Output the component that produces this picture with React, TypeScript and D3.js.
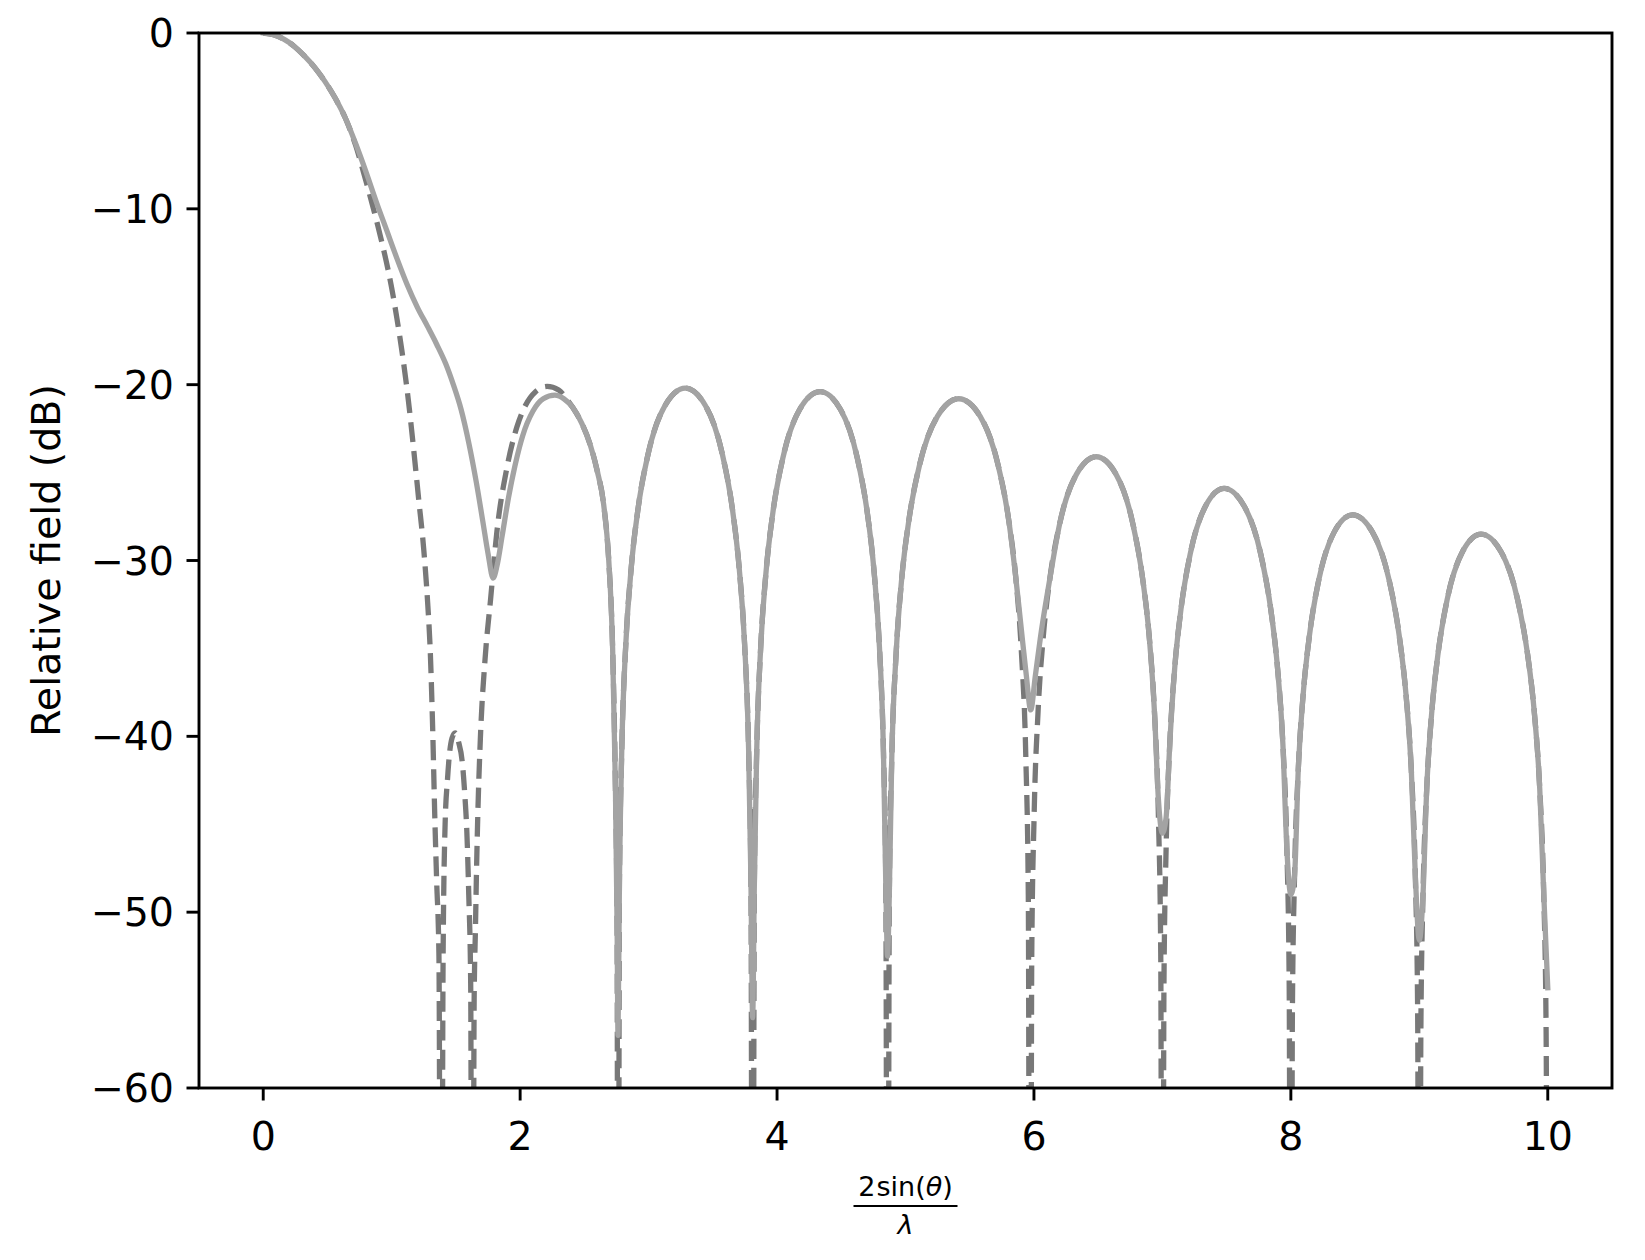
import React from 'react';
import * as d3 from 'd3';

type Pt = [number, number];

const xTicks = [0, 2, 4, 6, 8, 10];
const yTicks = [0, -10, -20, -30, -40, -50, -60];
const xDomain: Pt = [-0.5, 10.5];
const yDomain: Pt = [-60, 0];
const yLabel = 'Relative field (dB)';

// solid series: main lobe + first sidelobe
const solidMainLobe: Pt[] = [
  [0, 0], [0.08, -0.1], [0.16, -0.35], [0.24, -0.75], [0.32, -1.3], [0.40, -1.95],
  [0.48, -2.75], [0.56, -3.7], [0.64, -4.85], [0.72, -6.3], [0.80, -7.9], [0.88, -9.6],
  [0.96, -11.2], [1.04, -12.8], [1.12, -14.3], [1.20, -15.6], [1.28, -16.7], [1.35, -17.7],
  [1.42, -18.8], [1.48, -20.0], [1.54, -21.4], [1.60, -23.3], [1.66, -25.6], [1.71, -27.8],
  [1.75, -29.6], [1.79, -31.0], [1.82, -30.3], [1.86, -28.6], [1.91, -26.4], [1.96, -24.6],
  [2.02, -22.9], [2.10, -21.5], [2.18, -20.8], [2.27, -20.6], [2.34, -20.8], [2.41, -21.3],
  [2.48, -22.2], [2.545, -23.4], [2.60, -24.9], [2.65, -26.8], [2.69, -30.0], [2.72, -35.0],
  [2.742, -43.0], [2.755, -51.0],
];

// solid series: remaining sidelobes (shallow nulls)
const solidSidelobes: Pt[] = [
  [2.762, -57.0],
  [2.773, -48.3], [2.7915, -40.7], [2.823, -34.7], [2.865, -30.4], [2.917, -27.1], [2.996, -23.95],
  [3.127, -21.2], [3.285, -20.2], [3.443, -21.2], [3.574, -23.95], [3.653, -27.1], [3.705, -30.4],
  [3.747, -34.7], [3.7785, -40.7], [3.797, -48.4],
  [3.81, -56.0],
  [3.823, -48.6], [3.8415, -40.9], [3.873, -34.9], [3.915, -30.6], [3.967, -27.3], [4.046, -24.15],
  [4.177, -21.4], [4.335, -20.4], [4.493, -21.4], [4.624, -24.15], [4.703, -27.3], [4.755, -30.6],
  [4.797, -34.9], [4.8285, -40.9], [4.847, -48.6],
  [4.86, -52.5],
  [4.874, -49.0], [4.893, -41.3], [4.927, -35.3], [4.971, -31.0], [5.0265, -27.7], [5.11, -24.55],
  [5.2485, -21.8], [5.415, -20.8], [5.5815, -21.8], [5.72, -24.55], [5.8035, -27.7], [5.859, -31.0],
  [5.90, -33.8], [5.94, -36.5],
  [5.975, -38.5],
  [6.01, -36.6], [6.05, -34.4], [6.09, -32.5], [6.1245, -31.0], [6.202, -27.85], [6.3305, -25.1],
  [6.485, -24.1], [6.6395, -25.1], [6.768, -27.85], [6.8455, -31.0], [6.897, -34.3], [6.938, -38.6],
  [6.969, -43.6],
  [7.0, -45.5],
  [7.029, -44.6], [7.0576, -40.4], [7.096, -36.1], [7.144, -32.8], [7.216, -29.65], [7.336, -26.9],
  [7.48, -25.9], [7.636, -26.9], [7.766, -29.65], [7.844, -32.8], [7.896, -36.1], [7.9376, -40.4],
  [7.9688, -46.4],
  [8.0, -49.0],
  [8.0288, -47.9], [8.0576, -41.9], [8.096, -37.6], [8.144, -34.3], [8.216, -31.15], [8.336, -28.4],
  [8.48, -27.4], [8.636, -28.4], [8.766, -31.15], [8.844, -34.3], [8.896, -37.6], [8.9376, -41.9],
  [8.9688, -47.9],
  [9.0, -51.6],
  [9.0288, -49.0], [9.0576, -43.0], [9.096, -38.7], [9.144, -35.4], [9.216, -32.25], [9.336, -29.5],
  [9.48, -28.5], [9.636, -29.5], [9.766, -32.25], [9.844, -35.4], [9.896, -38.7], [9.9376, -43.0],
  [9.9688, -49.0],
  [10.0, -54.3],
];

// dashed series: main lobe, narrow lobe at 1.5 and first sidelobe
const dashedMainLobe: Pt[] = [
  [0, 0], [0.08, -0.1], [0.16, -0.35], [0.24, -0.75], [0.32, -1.3], [0.40, -1.95],
  [0.48, -2.75], [0.56, -3.7], [0.64, -4.85], [0.72, -6.4], [0.78, -7.9], [0.84, -9.5],
  [0.89, -10.9], [0.93, -12.1], [0.97, -13.4], [1.00, -14.5], [1.04, -16.2], [1.08, -18.1],
  [1.13, -20.9], [1.17, -23.6], [1.21, -26.5], [1.25, -29.4], [1.28, -32.4], [1.30, -35.1],
  [1.32, -39.8], [1.335, -44.4], [1.35, -48.2], [1.368, -52.5], [1.385, -90],
  [1.40, -52.8], [1.416, -45.0], [1.435, -42.4], [1.45, -41.0], [1.47, -40.1], [1.494, -39.8],
  [1.52, -40.3], [1.55, -41.5], [1.57, -43.4], [1.585, -45.4], [1.60, -49.0], [1.615, -54.0],
  [1.628, -90],
  [1.642, -55.0], [1.652, -51.0], [1.66, -47.8], [1.67, -44.6], [1.69, -40.2], [1.727, -35.6],
  [1.77, -32.2], [1.82, -28.3], [1.895, -24.8], [1.975, -22.4], [2.04, -21.2], [2.12, -20.4],
  [2.21, -20.1], [2.30, -20.3], [2.36, -20.8], [2.41, -21.3], [2.48, -22.2], [2.545, -23.4],
  [2.60, -24.9], [2.65, -26.8], [2.69, -30.0], [2.72, -35.0], [2.742, -43.0], [2.755, -51.0],
];

// dashed series: remaining sidelobes (deep nulls)
const dashedSidelobes: Pt[] = [
  [2.762, -90],
  [2.773, -48.3], [2.7915, -40.7], [2.823, -34.7], [2.865, -30.4], [2.917, -27.1], [2.996, -23.95],
  [3.127, -21.2], [3.285, -20.2], [3.443, -21.2], [3.574, -23.95], [3.653, -27.1], [3.705, -30.4],
  [3.747, -34.7], [3.7785, -40.7], [3.797, -48.4],
  [3.81, -90],
  [3.823, -48.6], [3.8415, -40.9], [3.873, -34.9], [3.915, -30.6], [3.967, -27.3], [4.046, -24.15],
  [4.177, -21.4], [4.335, -20.4], [4.493, -21.4], [4.624, -24.15], [4.703, -27.3], [4.755, -30.6],
  [4.797, -34.9], [4.8285, -40.9], [4.847, -48.6],
  [4.86, -90],
  [4.874, -49.0], [4.893, -41.3], [4.927, -35.3], [4.971, -31.0], [5.0265, -27.7], [5.11, -24.55],
  [5.2485, -21.8], [5.415, -20.8], [5.5815, -21.8], [5.72, -24.55], [5.8035, -27.7], [5.859, -31.0],
  [5.903, -35.3], [5.937, -41.3], [5.956, -49.0],
  [5.97, -90],
  [5.983, -52.3], [6.001, -44.6], [6.032, -38.6], [6.073, -34.3], [6.1245, -31.0], [6.202, -27.85],
  [6.3305, -25.1], [6.485, -24.1], [6.6395, -25.1], [6.768, -27.85], [6.8455, -31.0], [6.897, -34.3],
  [6.938, -38.6], [6.969, -44.6], [6.987, -52.3],
  [7.0, -90],
  [7.012, -54.1], [7.0288, -46.4], [7.0576, -40.4], [7.096, -36.1], [7.144, -32.8], [7.216, -29.65],
  [7.336, -26.9], [7.48, -25.9], [7.636, -26.9], [7.766, -29.65], [7.844, -32.8], [7.896, -36.1],
  [7.9376, -40.4], [7.9688, -46.4], [7.987, -54.1],
  [8.0, -90],
  [8.012, -55.6], [8.0288, -47.9], [8.0576, -41.9], [8.096, -37.6], [8.144, -34.3], [8.216, -31.15],
  [8.336, -28.4], [8.48, -27.4], [8.636, -28.4], [8.766, -31.15], [8.844, -34.3], [8.896, -37.6],
  [8.9376, -41.9], [8.9688, -47.9], [8.987, -55.6],
  [9.0, -90],
  [9.012, -56.7], [9.0288, -49.0], [9.0576, -43.0], [9.096, -38.7], [9.144, -35.4], [9.216, -32.25],
  [9.336, -29.5], [9.48, -28.5], [9.636, -29.5], [9.766, -32.25], [9.844, -35.4], [9.896, -38.7],
  [9.9376, -43.0], [9.9688, -49.0], [9.987, -56.7],
  [10.0, -90],
];

const W = 1645;
const H = 1260;
const plot = { left: 199, right: 1612, top: 33, bottom: 1088 };
const FONT = '"DejaVu Sans", sans-serif';
const SOLID_COLOR = '#a3a3a3';
const DASH_COLOR = '#787878';
const LW = 5.3;
const TICK_LEN = 12.5;
const AXIS_LW = 2.9;
const TICK_FONT = 39.5;

export default function App() {
  const x = d3.scaleLinear().domain(xDomain).range([plot.left, plot.right]);
  const y = d3.scaleLinear().domain(yDomain).range([plot.bottom, plot.top]);
  const line = d3
    .line<Pt>()
    .x((d) => x(d[0]))
    .y((d) => y(d[1]))
    .curve(d3.curveMonotoneX);

  const solid = solidMainLobe.concat(solidSidelobes);
  const dashed = dashedMainLobe.concat(dashedSidelobes);
  const fmt = (v: number) => (v < 0 ? '\u2212' + Math.abs(v) : String(v));
  const cx = (plot.left + plot.right) / 2;
  const cy = (plot.top + plot.bottom) / 2;

  return (
    <svg
      width={W}
      height={H}
      style={{ position: 'absolute', left: 0, top: 0, display: 'block', background: '#fff' }}
      fontFamily={FONT}
    >
      <rect x={0} y={0} width={W} height={H} fill="#fff" />
      <defs>
        <clipPath id="plotClip">
          <rect x={plot.left} y={plot.top} width={plot.right - plot.left} height={plot.bottom - plot.top} />
        </clipPath>
      </defs>
      <g clipPath="url(#plotClip)">
        <path
          d={line(dashed) || ''}
          fill="none"
          stroke={DASH_COLOR}
          strokeWidth={LW}
          strokeDasharray="20 9"
          strokeLinejoin="round"
        />
        <path d={line(solid) || ''} fill="none" stroke={SOLID_COLOR} strokeWidth={LW} strokeLinejoin="round" strokeLinecap="square" />
      </g>
      {/* spines */}
      <rect
        x={plot.left}
        y={plot.top}
        width={plot.right - plot.left}
        height={plot.bottom - plot.top}
        fill="none"
        stroke="#000"
        strokeWidth={AXIS_LW}
      />
      {/* x ticks */}
      {xTicks.map((t) => (
        <g key={'x' + t}>
          <line x1={x(t)} x2={x(t)} y1={plot.bottom} y2={plot.bottom + TICK_LEN} stroke="#000" strokeWidth={AXIS_LW} />
          <text x={x(t)} y={plot.bottom + 62} textAnchor="middle" fontSize={TICK_FONT} fill="#000">
            {fmt(t)}
          </text>
        </g>
      ))}
      {/* y ticks */}
      {yTicks.map((t) => (
        <g key={'y' + t}>
          <line x1={plot.left - TICK_LEN} x2={plot.left} y1={y(t)} y2={y(t)} stroke="#000" strokeWidth={AXIS_LW} />
          <text x={plot.left - 25} y={y(t) + 14} textAnchor="end" fontSize={TICK_FONT} fill="#000">
            {fmt(t)}
          </text>
        </g>
      ))}
      {/* y label */}
      <text
        transform={`translate(60, ${cy}) rotate(-90)`}
        textAnchor="middle"
        fontSize={39.5}
        fill="#000"
      >
        {yLabel}
      </text>
      {/* x label: 2 sin(θ) / λ */}
      <text x={cx} y={1196} textAnchor="middle" fontSize={27} fill="#000">
        2<tspan dx={1}>sin</tspan>(<tspan fontStyle="italic">θ</tspan>)
      </text>
      <line x1={cx - 52} x2={cx + 52} y1={1206} y2={1206} stroke="#000" strokeWidth={2} />
      <text x={cx} y={1234} textAnchor="middle" fontSize={27} fontStyle="italic" fill="#000">
        λ
      </text>
    </svg>
  );
}
